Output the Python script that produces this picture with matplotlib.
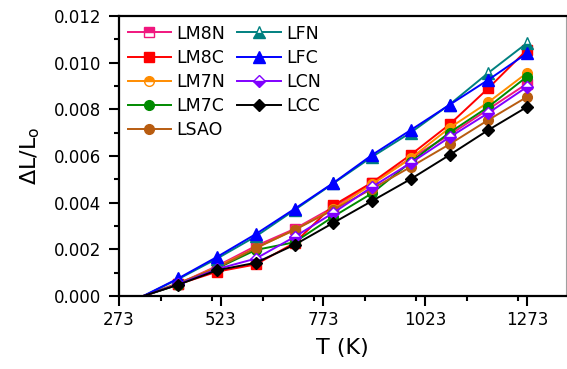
import numpy as np
import matplotlib
matplotlib.use('Agg')
import matplotlib.pyplot as plt
from matplotlib.ticker import MultipleLocator, FormatStrFormatter

plt.rcParams['font.family'] = ['DejaVu Sans']
plt.rcParams['mathtext.fontset'] = 'dejavusans'

# temperatures (K), first point is the reference (dL/L = 0)
T = [333, 418, 513, 608, 703, 798, 893, 988, 1083, 1178, 1273]

LM8N = [0, 0.00052, 0.00128, 0.00214, 0.00287, 0.00380, 0.00484, 0.00590, 0.00690, 0.00800, 0.00910]
LM8C = [0, 0.00050, 0.00104, 0.00135, 0.00227, 0.00388, 0.00486, 0.00605, 0.00735, 0.00890, 0.01055]
LM7N = [0, 0.00050, 0.00125, 0.00205, 0.00283, 0.00372, 0.00478, 0.00590, 0.00720, 0.00830, 0.00956]
LM7C = [0, 0.00048, 0.00118, 0.00197, 0.00230, 0.00340, 0.00440, 0.00574, 0.00700, 0.00810, 0.00940]
LSAO = [0, 0.00055, 0.00120, 0.00205, 0.00283, 0.00369, 0.00459, 0.00553, 0.00650, 0.00754, 0.00853]
LFN = [0, 0.00072, 0.00160, 0.00255, 0.00368, 0.00482, 0.00596, 0.00700, 0.00820, 0.00956, 0.01084]
LFC = [0, 0.00075, 0.00167, 0.00265, 0.00373, 0.00484, 0.00604, 0.00711, 0.00819, 0.00926, 0.01040]
LCN = [0, 0.00050, 0.00115, 0.00160, 0.00253, 0.00356, 0.00467, 0.00570, 0.00680, 0.00784, 0.00896]
LCC = [0, 0.00048, 0.00110, 0.00142, 0.00219, 0.00313, 0.00407, 0.00501, 0.00604, 0.00711, 0.00810]

x_ticks = [273, 523, 773, 1023, 1273]

# name, data, color, marker, fillstyle
series = [
    ('LM8N', LM8N, '#F0167E', 's', 'top'),
    ('LM8C', LM8C, '#FF0000', 's', 'full'),
    ('LM7N', LM7N, '#FF8C00', 'o', 'top'),
    ('LM7C', LM7C, '#008A00', 'o', 'full'),
    ('LSAO', LSAO, '#B85C10', 'o', 'full'),
    ('LFN', LFN, '#008080', '^', 'bottom'),
    ('LFC', LFC, '#0000FF', '^', 'full'),
    ('LCN', LCN, '#8000FF', 'D', 'bottom'),
    ('LCC', LCC, '#000000', 'D', 'full'),
]

fig = plt.figure(figsize=(5.67, 3.69), dpi=100)
ax = fig.add_axes([0.21, 0.198, 0.788, 0.759])

for name, y, c, m, fs in series:
    ms = 8 if m == '^' else 7
    if m == 'D':
        ms = 6.5
    ax.plot(T, y, color=c, lw=1.4, marker=m, ms=ms, fillstyle=fs,
            markerfacecolor=c, markerfacecoloralt='white', markeredgecolor=c,
            markeredgewidth=1.0, markevery=list(range(1, len(T))), label=name)

ax.set_xlim(273, 1368)
ax.set_ylim(0, 0.012)
ax.set_xticks(x_ticks)
ax.xaxis.set_minor_locator(MultipleLocator(125))
ax.yaxis.set_major_locator(MultipleLocator(0.002))
ax.yaxis.set_minor_locator(MultipleLocator(0.001))
ax.yaxis.set_major_formatter(FormatStrFormatter('%.3f'))

ax.tick_params(which='major', direction='out', length=7, width=1.5, labelsize=12, pad=4)
ax.tick_params(axis='y', which='major', pad=6)
ax.tick_params(which='minor', direction='out', length=3.5, width=1.5)
ax.tick_params(top=False, right=False)

for s in ['left', 'bottom', 'top']:
    ax.spines[s].set_linewidth(1.6)
    ax.spines[s].set_color('black')
ax.spines['right'].set_linewidth(0.8)
ax.spines['right'].set_color('#a0a0a0')

ax.set_xlabel('T (K)', fontsize=16, labelpad=6)
ax.set_ylabel(r'$\Delta$L/L$_\mathregular{o}$', fontsize=16, labelpad=8)

ax.legend(ncol=2, loc='upper left', frameon=False, fontsize=12.5,
          handlelength=2.5, columnspacing=0.7, labelspacing=0.35,
          handletextpad=0.3, borderaxespad=0.1, bbox_to_anchor=(0.0, 1.0))

fig.savefig('out.png', dpi=100)
